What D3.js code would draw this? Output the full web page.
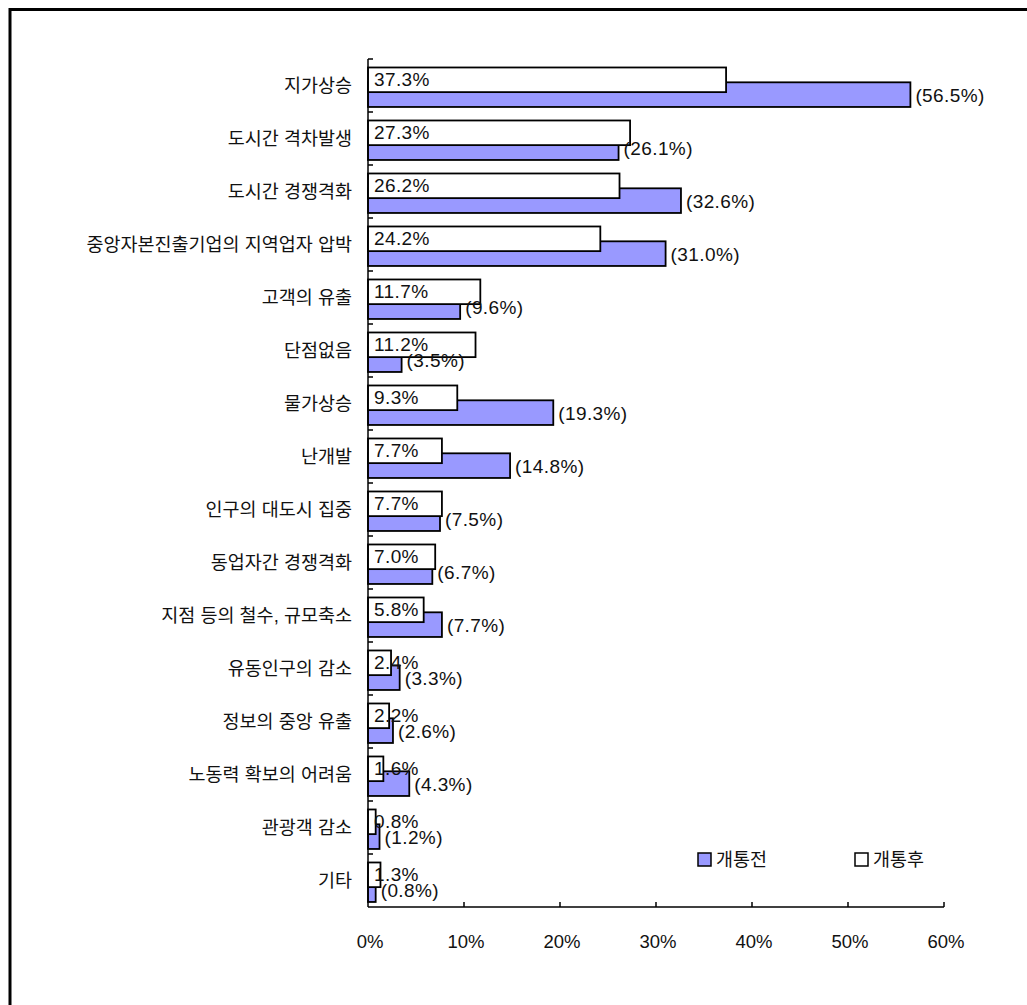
<!DOCTYPE html>
<html>
<head>
<meta charset="utf-8">
<script src="https://cdn.jsdelivr.net/npm/d3@7/dist/d3.min.js"></script>
<style>
  body { margin: 0; background: #fff; }
  text { font-family: "Liberation Sans", "Noto Sans CJK KR", sans-serif; fill: #111; }
</style>
</head>
<body>
<div id="chart_div"></div>
<script>
var categories = ["지가상승", "도시간 격차발생", "도시간 경쟁격화", "중앙자본진출기업의 지역업자 압박",
                  "고객의 유출", "단점없음", "물가상승", "난개발", "인구의 대도시 집중",
                  "동업자간 경쟁격화", "지점 등의 철수, 규모축소", "유동인구의 감소",
                  "정보의 중앙 유출", "노동력 확보의 어려움", "관광객 감소", "기타"];
var before = [56.5, 26.1, 32.6, 31.0, 9.6, 3.5, 19.3, 14.8, 7.5, 6.7, 7.7, 3.3, 2.6, 4.3, 1.2, 0.8];  // 개통전
var after  = [37.3, 27.3, 26.2, 24.2, 11.7, 11.2, 9.3, 7.7, 7.7, 7.0, 5.8, 2.4, 2.2, 1.6, 0.8, 1.3];  // 개통후
var series_names = ["개통전", "개통후"];
var x_ticks = [0, 10, 20, 30, 40, 50, 60];

var width = 1027, height = 1005;
var plot = {left: 368, right: 944, top: 59, bottom: 907};

var svg = d3.select("#chart_div")
    .append("svg")
    .attr("width", width)
    .attr("height", height);

// outer frame (only top and left edges show in the picture)
svg.append("rect")
    .attr("x", 10).attr("y", 9.5)
    .attr("width", width + 20).attr("height", height + 20)
    .attr("fill", "none")
    .attr("stroke", "#000")
    .attr("stroke-width", 3);

var x = d3.scaleLinear()
    .domain([0, 60])
    .range([plot.left, plot.right]);

var y = d3.scaleBand()
    .domain(categories)
    .range([plot.top, plot.bottom]);

var bw = y.bandwidth();

var rows = categories.map((c, i) => ({cat: c, before: before[i], after: after[i]}));

var g = svg.append("g");

// 개통전 (purple, lower)
g.selectAll(".bar_before")
    .data(rows)
    .enter()
    .append("rect")
    .attr("class", "bar_before")
    .attr("x", x(0))
    .attr("y", d => y(d.cat) + bw * 0.44)
    .attr("width", d => x(d.before) - x(0))
    .attr("height", bw * 0.465)
    .attr("fill", "#9999ff")
    .attr("stroke", "#000")
    .attr("stroke-width", 1.8);

// 개통후 (white, upper, drawn on top)
g.selectAll(".bar_after")
    .data(rows)
    .enter()
    .append("rect")
    .attr("class", "bar_after")
    .attr("x", x(0))
    .attr("y", d => y(d.cat) + bw * 0.16)
    .attr("width", d => x(d.after) - x(0))
    .attr("height", bw * 0.465)
    .attr("fill", "#fff")
    .attr("stroke", "#000")
    .attr("stroke-width", 1.8);

// value labels
g.selectAll(".lab_after")
    .data(rows)
    .enter()
    .append("text")
    .attr("x", x(0) + 6)
    .attr("y", d => y(d.cat) + bw * 0.39)
    .attr("dy", "0.35em")
    .attr("font-size", 19)
    .attr("letter-spacing", 0.4)
    .text(d => d.after.toFixed(1) + "%");

g.selectAll(".lab_before")
    .data(rows)
    .enter()
    .append("text")
    .attr("x", d => x(d.before) + 5)
    .attr("y", d => y(d.cat) + bw * 0.68)
    .attr("dy", "0.35em")
    .attr("font-size", 19)
    .attr("letter-spacing", 0.4)
    .text(d => "(" + d.before.toFixed(1) + "%)");

// category labels
g.selectAll(".cat")
    .data(categories)
    .enter()
    .append("text")
    .attr("x", 352)
    .attr("y", d => y(d) + bw / 2)
    .attr("dy", "0.35em")
    .attr("text-anchor", "end")
    .attr("font-size", 18.5)
    .text(d => d);

// axes
var axes = svg.append("g").attr("stroke", "#000").attr("stroke-width", 1.5);
axes.append("line")
    .attr("x1", x(0)).attr("x2", x(0))
    .attr("y1", plot.top).attr("y2", plot.bottom);
axes.append("line")
    .attr("x1", x(0)).attr("x2", x(60))
    .attr("y1", plot.bottom).attr("y2", plot.bottom);

axes.selectAll(".ytick")
    .data(categories)
    .enter()
    .append("line")
    .attr("x1", x(0)).attr("x2", x(0) + 5)
    .attr("y1", d => y(d)).attr("y2", d => y(d));

axes.selectAll(".xtick")
    .data(x_ticks.slice(1))
    .enter()
    .append("line")
    .attr("x1", d => x(d)).attr("x2", d => x(d))
    .attr("y1", plot.bottom).attr("y2", plot.bottom - 5);

svg.selectAll(".xlab")
    .data(x_ticks)
    .enter()
    .append("text")
    .attr("x", d => x(d) + 2)
    .attr("y", 942)
    .attr("dy", "0.35em")
    .attr("text-anchor", "middle")
    .attr("font-size", 18.5)
    .text(d => d + "%");

// legend
var legend_x = [698, 855];
var legend_fill = ["#9999ff", "#fff"];
var leg = svg.selectAll(".legend")
    .data(series_names)
    .enter()
    .append("g")
    .attr("transform", (d, i) => "translate(" + legend_x[i] + ",853)");
leg.append("rect")
    .attr("width", 13).attr("height", 13)
    .attr("fill", (d, i) => legend_fill[i])
    .attr("stroke", "#000")
    .attr("stroke-width", 1.5);
leg.append("text")
    .attr("x", 18)
    .attr("y", 6.5)
    .attr("dy", "0.35em")
    .attr("font-size", 18.5)
    .text(d => d);
</script>
</body>
</html>
